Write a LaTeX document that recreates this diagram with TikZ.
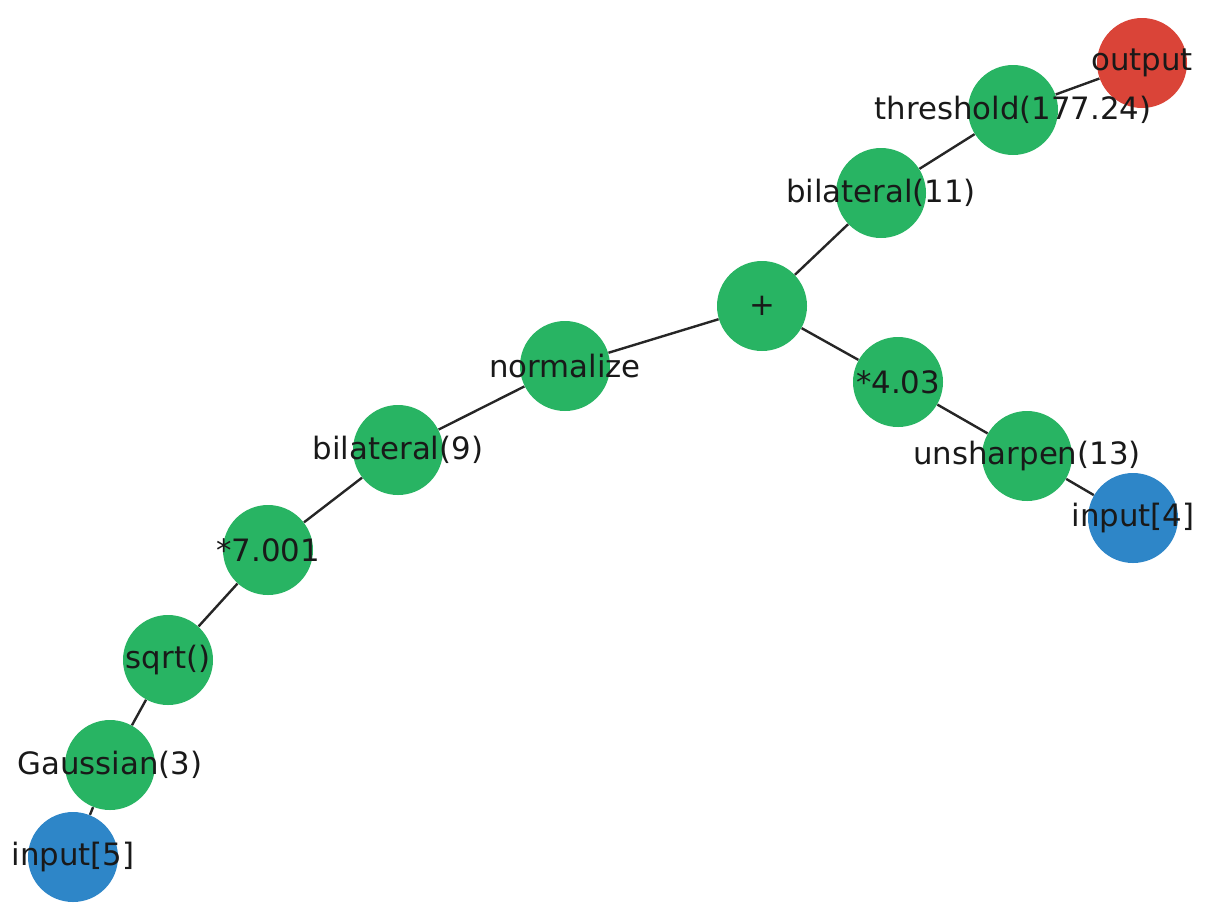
\documentclass[tikz,border=0pt]{standalone}
\usepackage{fontspec}
\setmainfont{DejaVu Sans}
\definecolor{ngreen}{RGB}{40,180,99}
\definecolor{nblue}{RGB}{46,134,200}
\definecolor{nred}{RGB}{218,68,56}
\tikzset{
  opnode/.style={circle, fill=ngreen, draw=none, minimum size=45pt, inner sep=0pt},
  innode/.style={circle, fill=nblue, draw=none, minimum size=45pt, inner sep=0pt},
  outnode/.style={circle, fill=nred, draw=none, minimum size=45pt, inner sep=0pt},
  lbl/.style={font=\fontsize{15.4pt}{18pt}\selectfont, text=black!90, inner sep=0pt},
  edge/.style={draw=black!85, line width=1.2pt}
}
\begin{document}
\begin{tikzpicture}[x=0.5pt,y=-0.5pt]
\useasboundingbox (0,0) rectangle (1208,906);
% node discs
\node[outnode] (out) at (1142,63) {};
\node[opnode] (thr) at (1013,110) {};
\node[opnode] (bil11) at (881,193) {};
\node[opnode] (plus) at (762,306) {};
\node[opnode] (m403) at (898,382) {};
\node[opnode] (uns) at (1027,456) {};
\node[innode] (in4) at (1133,518) {};
\node[opnode] (norm) at (565,366) {};
\node[opnode] (bil9) at (398,450) {};
\node[opnode] (m7) at (268,550) {};
\node[opnode] (sqrt) at (168,660) {};
\node[opnode] (gau) at (110,765) {};
\node[innode] (in5) at (73,857) {};
% edges
\draw[edge] (out) -- (thr);
\draw[edge] (thr) -- (bil11);
\draw[edge] (bil11) -- (plus);
\draw[edge] (plus) -- (norm);
\draw[edge] (plus) -- (m403);
\draw[edge] (m403) -- (uns);
\draw[edge] (uns) -- (in4);
\draw[edge] (norm) -- (bil9);
\draw[edge] (bil9) -- (m7);
\draw[edge] (m7) -- (sqrt);
\draw[edge] (sqrt) -- (gau);
\draw[edge] (gau) -- (in5);
% labels
\node[lbl] at (out) {output};
\node[lbl] at (thr) {threshold(177.24)};
\node[lbl] at (bil11) {bilateral(11)};
\node[lbl] at (plus) {+};
\node[lbl] at (m403) {*4.03};
\node[lbl] at (uns) {unsharpen(13)};
\node[lbl] at (in4) {input[4]};
\node[lbl] at (norm) {normalize};
\node[lbl] at (bil9) {bilateral(9)};
\node[lbl] at (m7) {*7.001};
\node[lbl] at (sqrt) {sqrt()};
\node[lbl] at (gau) {Gaussian(3)};
\node[lbl] at (in5) {input[5]};
\end{tikzpicture}
\end{document}
